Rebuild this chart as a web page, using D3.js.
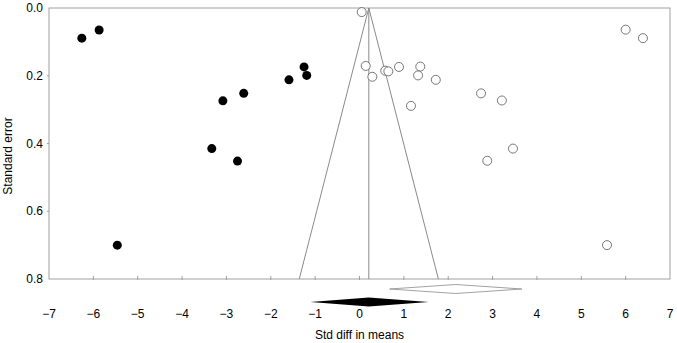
<!DOCTYPE html>
<html>
<head>
<meta charset="utf-8">
<script src="https://cdn.jsdelivr.net/npm/d3@7"></script>
<style>
  body { margin: 0; background: #fff; }
  text { font-family: "Liberation Sans", Arial, sans-serif; fill: #000; }
</style>
</head>
<body>
<svg id="chart" width="677" height="343"></svg>
<script>
// imputed studies (filled)
var imputedDiff = [-6.26, -5.87, -3.08, -2.61, -3.33, -2.75, -1.59, -1.25, -1.19, -5.46]
var imputedSE = [0.089, 0.065, 0.274, 0.252, 0.415, 0.452, 0.212, 0.174, 0.199, 0.700]

// observed studies (open)
var observedDiff = [0.05, 0.14, 0.29, 0.58, 0.65, 0.89, 1.37, 1.32, 1.72, 1.16, 2.74, 3.21, 3.46, 2.88, 6.00, 6.39, 5.58]
var observedSE = [0.012, 0.171, 0.203, 0.185, 0.187, 0.174, 0.173, 0.199, 0.212, 0.289, 0.252, 0.273, 0.415, 0.451, 0.064, 0.089, 0.700]

// summary estimates: [lower, point, upper]
var observedSummary = [0.68, 2.17, 3.66]
var adjustedSummary = [-1.11, 0.21, 1.56]

var xTicks = [-7, -6, -5, -4, -3, -2, -1, 0, 1, 2, 3, 4, 5, 6, 7]
var yTicks = [0, 0.2, 0.4, 0.6, 0.8]

var width = 677, height = 343
var margin = {top: 8, right: 7, bottom: 64, left: 49}
var svg = d3.select('#chart')

var x = d3.scaleLinear().domain([-7, 7]).range([margin.left, width - margin.right])
var y = d3.scaleLinear().domain([0, 0.8]).range([margin.top, height - margin.bottom])

var axisColor = '#a0a0a0'

// frame
svg.append('rect')
  .attr('x', x(-7)).attr('y', y(0))
  .attr('width', x(7) - x(-7)).attr('height', y(0.8) - y(0))
  .attr('fill', 'none').attr('stroke', axisColor).attr('stroke-width', 1)

// x ticks (short, pointing up)
svg.append('g').selectAll('line')
  .data(xTicks.slice(1, -1))
  .enter().append('line')
  .attr('x1', function(d) { return x(d) })
  .attr('x2', function(d) { return x(d) })
  .attr('y1', y(0.8) + 1)
  .attr('y2', y(0.8) - 3)
  .attr('stroke', axisColor)

// y ticks (short, pointing left)
svg.append('g').selectAll('line')
  .data(yTicks.slice(1, -1))
  .enter().append('line')
  .attr('x1', x(-7) - 2)
  .attr('x2', x(-7))
  .attr('y1', function(d) { return y(d) })
  .attr('y2', function(d) { return y(d) })
  .attr('stroke', axisColor)

svg.append('g').selectAll('text')
  .data(xTicks)
  .enter().append('text')
  .attr('x', function(d) { return x(d) })
  .attr('y', 318)
  .attr('text-anchor', 'middle')
  .attr('font-size', 12)
  .text(function(d) { return d < 0 ? '\u2212' + Math.abs(d) : d })

svg.append('g').selectAll('text')
  .data(yTicks)
  .enter().append('text')
  .attr('x', x(-7) - 6)
  .attr('y', function(d) { return y(d) })
  .attr('dy', '0.35em')
  .attr('text-anchor', 'end')
  .attr('font-size', 12)
  .text(function(d) { return d.toFixed(1) })

svg.append('text')
  .attr('x', x(0))
  .attr('y', 339)
  .attr('text-anchor', 'middle')
  .attr('font-size', 12)
  .text('Std diff in means')

svg.append('text')
  .attr('transform', 'translate(12,156) rotate(-90)')
  .attr('text-anchor', 'middle')
  .attr('font-size', 12)
  .text('Standard error')

// funnel around adjusted estimate
var c = adjustedSummary[1]
var funnel = [[c - 1.96 * 0.8, 0.8], [c, 0], [c + 1.96 * 0.8, 0.8]]
svg.append('path')
  .attr('d', d3.line().x(function(d) { return x(d[0]) }).y(function(d) { return y(d[1]) })(funnel))
  .attr('fill', 'none')
  .attr('stroke', '#8a8a8a')
  .attr('stroke-width', 1)

svg.append('line')
  .attr('x1', x(c)).attr('x2', x(c))
  .attr('y1', y(0)).attr('y2', y(0.8))
  .attr('stroke', '#8a8a8a')

// points
svg.append('g').selectAll('circle')
  .data(observedDiff)
  .enter().append('circle')
  .attr('cx', function(d) { return x(d) })
  .attr('cy', function(d, i) { return y(observedSE[i]) })
  .attr('r', 4.5)
  .attr('fill', '#fff')
  .attr('stroke', '#555')
  .attr('stroke-width', 0.8)

svg.append('g').selectAll('circle')
  .data(imputedDiff)
  .enter().append('circle')
  .attr('cx', function(d) { return x(d) })
  .attr('cy', function(d, i) { return y(imputedSE[i]) })
  .attr('r', 4.5)
  .attr('fill', '#000')

// summary diamonds below the axis
function diamond(s, cy, h) {
  return 'M' + x(s[0]) + ',' + cy +
    'L' + x(s[1]) + ',' + (cy - h) +
    'L' + x(s[2]) + ',' + cy +
    'L' + x(s[1]) + ',' + (cy + h) + 'Z'
}
svg.append('path')
  .attr('d', diamond(observedSummary, y(0.8) + 10, 4.5))
  .attr('fill', '#fff')
  .attr('stroke', '#8a8a8a')
  .attr('stroke-width', 0.8)

svg.append('path')
  .attr('d', diamond(adjustedSummary, y(0.8) + 23, 4.5))
  .attr('fill', '#000')
</script>
</body>
</html>
